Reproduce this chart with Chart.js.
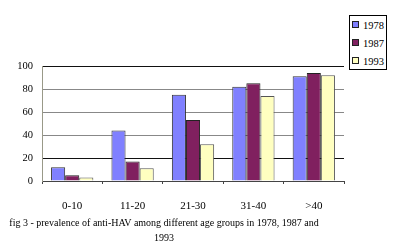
<!DOCTYPE html>
<html><head><meta charset="utf-8">
<script src="https://cdn.jsdelivr.net/npm/chart.js@4/dist/chart.umd.min.js"></script>
<style>
html,body{margin:0;padding:0;background:#fff;}
#wrap{position:relative;width:400px;height:243px;overflow:hidden;font-family:"Liberation Serif",serif;}
canvas{position:absolute;left:0;top:0;}
#legend{position:absolute;left:349px;top:15px;width:38px;height:55px;border:1px solid #000;box-sizing:border-box;background:#fff;font-size:10.5px;}
.li{position:absolute;left:2px;height:12px;line-height:12px;white-space:nowrap;}
.sw{display:inline-block;width:5px;height:5px;border:1px solid #222;margin-right:4px;vertical-align:1px;}
#cap{position:absolute;left:0;width:328px;top:215px;text-align:center;font-size:10px;line-height:15px;color:#000;}
</style></head>
<body><div id="wrap">
<canvas id="c" width="400" height="243"></canvas>
<div id="legend"></div>
<div id="cap">fig 3 - prevalence of anti-HAV among different age groups in 1978, 1987 and<br>1993</div>
</div>
<script>
const categories = ["0-10","11-20","21-30","31-40",">40"];
const seriesNames = ["1978","1987","1993"];
const v1978 = [12,44,75,82,91];
const v1987 = [5,17,53,85,94];
const v1993 = [3,11,32,74,92];
const yTicks = [0,20,40,60,80,100];
const colors = ["#8080ff","#80205f","#ffffc0"];

const lg = document.getElementById('legend');
seriesNames.forEach((n,i)=>{
  const d=document.createElement('div');d.className='li';d.style.top=(4+i*18)+'px';
  d.innerHTML='<span class="sw" style="background:'+colors[i]+'"></span>'+n;
  lg.appendChild(d);
});

Chart.defaults.font.family = "Liberation Serif";
new Chart(document.getElementById('c'),{
  type:'bar',
  data:{labels:categories,datasets:[
    {label:seriesNames[0],data:v1978,backgroundColor:colors[0],borderColor:"#333",borderWidth:1},
    {label:seriesNames[1],data:v1987,backgroundColor:colors[1],borderColor:"#222",borderWidth:1},
    {label:seriesNames[2],data:v1993,backgroundColor:colors[2],borderColor:"#555",borderWidth:1}
  ]},
  options:{
    responsive:false,animation:false,
    layout:{padding:{left:0,right:56,top:66,bottom:27}},
    plugins:{legend:{display:false},tooltip:{enabled:false}},
    datasets:{bar:{categoryPercentage:0.7,barPercentage:1}},
    scales:{
      x:{
        grid:{display:true,drawOnChartArea:false,drawTicks:true,tickLength:3,offset:true,color:"#444"},
        border:{color:"#444"},
        ticks:{font:{family:"Liberation Serif",size:11},color:"#000",padding:16},
        afterFit:s=>{s.height=35;}
      },
      y:{
        min:0,max:100,
        afterBuildTicks:s=>{s.ticks=yTicks.map(v=>({value:v}));},
        grid:{drawTicks:false,color:c=>(c.tick&&(c.tick.value===100||c.tick.value===20))?"#111":"#888"},
        border:{color:"#998"},
        ticks:{font:{family:"Liberation Serif",size:10.5},color:"#000",padding:9},
        afterFit:s=>{s.width=42;}
      }
    }
  }
});
</script>
</body></html>
